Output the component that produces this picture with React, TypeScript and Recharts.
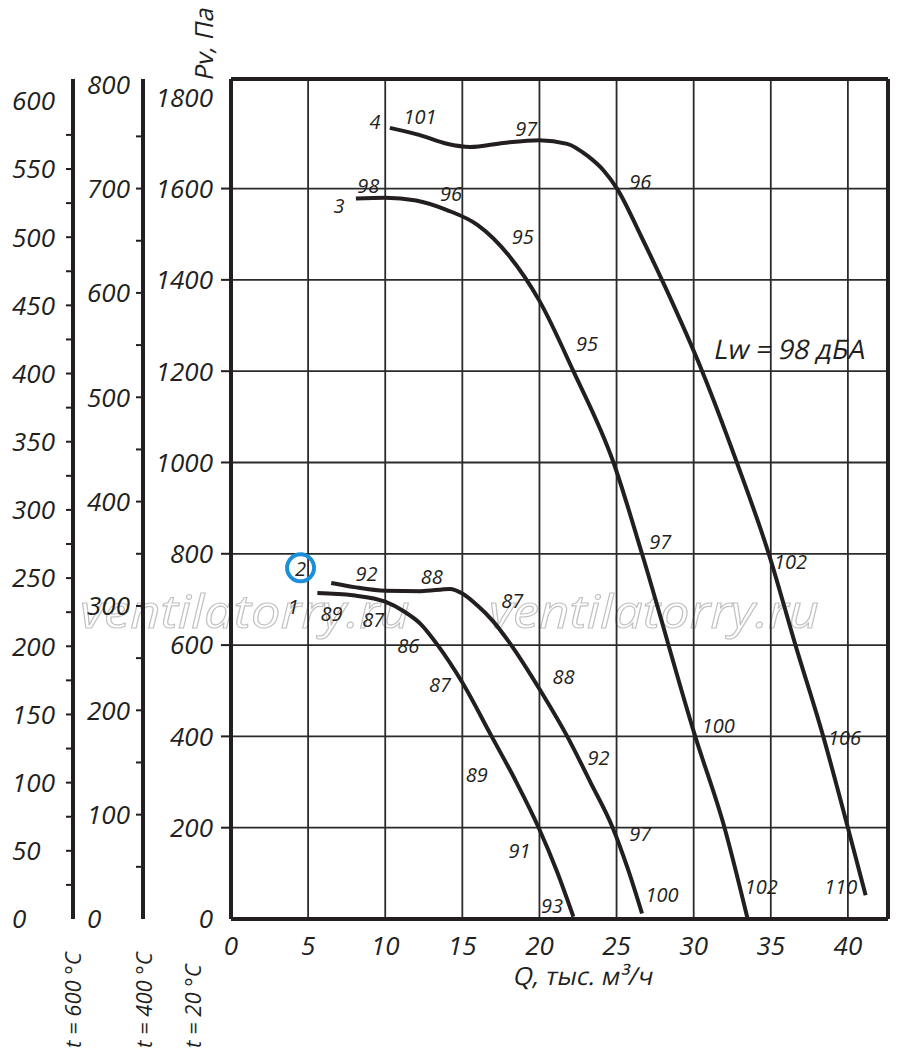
import React from 'react';
import {
  ComposedChart,
  Line,
  Scatter,
  XAxis,
  YAxis,
  ReferenceLine,
  Customized,
} from 'recharts';

// Fan curves: [Q, thousand m3/h ; Pv, Pa]
const curve1: [number, number][] = [
  [5.6, 714], [7.9, 709], [10, 695], [11.2, 674], [12.3, 646], [13.4, 600],
  [15, 518], [16.9, 400], [18.5, 300], [19.95, 200], [21.15, 103], [22.2, 5],
];
const curve2: [number, number][] = [
  [6.5, 736], [8, 727], [10, 719], [12.3, 718], [14.2, 723], [15, 713],
  [16, 686], [17, 652], [18, 608], [20.05, 501], [21.8, 400], [23.3, 300],
  [24.75, 200], [25.75, 108], [26.65, 12],
];
const curve3: [number, number][] = [
  [8.1, 1578], [10, 1580], [12, 1574], [14, 1553], [16, 1520], [18, 1454],
  [20, 1354], [22.2, 1200], [24.8, 1000], [26.65, 800], [30.1, 400], [32, 200],
  [33.5, 0],
];
const curve4: [number, number][] = [
  [10.3, 1733], [12.25, 1717], [14, 1698], [15.5, 1691], [17.66, 1700], [20, 1706],
  [21.8, 1698], [23.1, 1672], [24.2, 1638], [25.03, 1600], [26.6, 1495], [28.16, 1384],
  [30.55, 1200], [32.8, 1000], [34.87, 800], [36.6, 600], [38.4, 400], [40, 200],
  [41.15, 52],
];

// sound power levels and curve numbers written along the curves
const curveLabels = [
  { q: 9.33, p: 1746, text: '4' },
  { q: 12.25, p: 1757, text: '101' },
  { q: 19.14, p: 1730, text: '97' },
  { q: 26.54, p: 1614, text: '96' },
  { q: 36.28, p: 782, text: '102' },
  { q: 39.78, p: 398, text: '106' },
  { q: 39.53, p: 70, text: '110' },
  { q: 7.01, p: 1563, text: '3' },
  { q: 8.9, p: 1607, text: '98' },
  { q: 14.27, p: 1589, text: '96' },
  { q: 18.92, p: 1494, text: '95' },
  { q: 23.08, p: 1260, text: '95' },
  { q: 27.84, p: 826, text: '97' },
  { q: 31.6, p: 424, text: '100' },
  { q: 34.38, p: 70, text: '102' },
  { q: 4.51, p: 767, text: '2', circled: true },
  { q: 8.79, p: 756, text: '92' },
  { q: 13.01, p: 749, text: '88' },
  { q: 18.23, p: 698, text: '87' },
  { q: 21.56, p: 530, text: '88' },
  { q: 23.83, p: 353, text: '92' },
  { q: 26.54, p: 187, text: '97' },
  { q: 27.95, p: 52, text: '100' },
  { q: 4.03, p: 683, text: '1' },
  { q: 6.52, p: 669, text: '89' },
  { q: 9.22, p: 656, text: '87' },
  { q: 11.49, p: 599, text: '86' },
  { q: 13.55, p: 512, text: '87' },
  { q: 15.94, p: 315, text: '89' },
  { q: 18.7, p: 149, text: '91' },
  { q: 20.81, p: 28, text: '93' },
];
const noteLabels = [{ q: 36.28, p: 1249, text: 'Lw = 98 дБА' }];

const flowTicks = [0, 5, 10, 15, 20, 25, 30, 35, 40];
const flowGrid = [5, 10, 15, 20, 25, 30, 35, 40];
const paTicks = [0, 200, 400, 600, 800, 1000, 1200, 1400, 1600, 1800];
const paGrid = [200, 400, 600, 800, 1000, 1200, 1400, 1600];
const t400Ticks = [0, 50, 100, 150, 200, 250, 300, 350, 400, 450, 500, 550, 600, 650, 700, 750, 800];
const t600Ticks = [
  0, 25, 50, 75, 100, 125, 150, 175, 200, 225, 250, 275, 300, 325, 350, 375, 400,
  425, 450, 475, 500, 525, 550, 575, 600,
];

const Q_MAX = 42.6;
const PA_MAX = 1840;
const T400_MAX = 805;
const T600_MAX = 616;

const FONT = "'Open Sans', 'Noto Sans', sans-serif";
const INK = '#231f20';
const GRID = '#2b2b2b';
const BLUE = '#1b8fd9';

const toPoints = (c: [number, number][]) => c.map(([q, p]) => ({ q, p }));

const txt = {
  fontFamily: FONT,
  fontStyle: 'italic' as const,
  fill: INK,
};
// upright glyph shapes slanted, so Cyrillic letters keep their print form
const slanted = {
  fontFamily: FONT,
  fontStyle: 'normal' as const,
  fill: INK,
};

function PaTick({ x, y, payload }: any) {
  const v = payload.value;
  return (
    <g>
      {v > 0 && v < 1800 && <line x1={x - 10} x2={x} y1={y} y2={y} stroke={INK} strokeWidth={2} />}
      <text x={x - 18} y={y} dy="0.36em" textAnchor="end" fontSize={26} {...txt}>
        {v}
      </text>
    </g>
  );
}

function T400Tick({ x, y, payload }: any) {
  const v = payload.value;
  return (
    <g>
      {v > 0 && v < 800 && <line x1={x - 7} x2={x} y1={y} y2={y} stroke={INK} strokeWidth={2} />}
      {v % 100 === 0 && (
        <text x={x - 56} y={y} dy="0.36em" textAnchor="start" fontSize={26} {...txt}>
          {v}
        </text>
      )}
    </g>
  );
}

function T600Tick({ x, y, payload }: any) {
  const v = payload.value;
  return (
    <g>
      {v > 0 && v < 600 && <line x1={x - 7} x2={x} y1={y} y2={y} stroke={INK} strokeWidth={2} />}
      {v % 50 === 0 && (
        <text x={x - 61} y={y} dy="0.36em" textAnchor="start" fontSize={26} {...txt}>
          {v}
        </text>
      )}
    </g>
  );
}

function FlowTick({ x, y, payload }: any) {
  return (
    <text x={x} y={y + 36} textAnchor="middle" fontSize={26} {...txt}>
      {payload.value}
    </text>
  );
}

function CurveLabel({ cx, cy, payload }: any) {
  return (
    <g>
      {payload.circled && (
        <circle cx={cx} cy={cy - 1} r={13.5} fill="none" stroke={BLUE} strokeWidth={4} />
      )}
      <text x={cx} y={cy} dy="0.36em" textAnchor="middle" fontSize={20} {...txt}>
        {payload.text}
      </text>
    </g>
  );
}

function NoteLabel({ cx, cy, payload }: any) {
  return (
    <text
      transform={`translate(${cx},${cy}) skewX(-12)`}
      dy="0.36em"
      textAnchor="middle"
      fontSize={27}
      {...slanted}
    >
      {payload.text}
    </text>
  );
}

function Decorations() {
  const wm = {
    fontFamily: FONT,
    fontStyle: 'italic' as const,
    fontSize: 46,
    fill: 'none',
    stroke: '#c2c2c2',
    strokeWidth: 1.1,
  };
  return (
    <g>
      <text x={80} y={628} textLength={330} lengthAdjust="spacingAndGlyphs" {...wm}>
        ventilatorry.ru
      </text>
      <text x={489} y={628} textLength={330} lengthAdjust="spacingAndGlyphs" {...wm}>
        ventilatorry.ru
      </text>
      <text
        transform="translate(213,45) rotate(-90) skewX(-12)"
        textAnchor="middle"
        fontSize={25}
        {...slanted}
      >
        Pv, Па
      </text>
      <text transform="translate(582,985) skewX(-12)" textAnchor="middle" fontSize={25} {...slanted}>
        Q, тыс. м³/ч
      </text>
      <text transform="translate(81,1048) rotate(-90)" textAnchor="start" fontSize={22} {...txt}>
        t = 600 °C
      </text>
      <text transform="translate(152,1048) rotate(-90)" textAnchor="start" fontSize={22} {...txt}>
        t = 400 °C
      </text>
      <text transform="translate(201,1048) rotate(-90)" textAnchor="start" fontSize={22} {...txt}>
        t = 20 °C
      </text>
    </g>
  );
}

const curves = [curve1, curve2, curve3, curve4];

export default function App() {
  return (
    <div style={{ position: 'absolute', left: 0, top: 0, background: '#fff' }}>
      <ComposedChart
        width={900}
        height={1061}
        margin={{ top: 79, right: 12, bottom: 102, left: 0 }}
      >
        <XAxis
          type="number"
          dataKey="q"
          domain={[0, Q_MAX]}
          ticks={flowTicks}
          interval={0}
          allowDataOverflow
          axisLine={false}
          tickLine={false}
          tickSize={0}
          tickMargin={0}
          height={40}
          tick={(props: any) => <FlowTick {...props} />}
        />
        <YAxis
          yAxisId="pa"
          type="number"
          dataKey="p"
          domain={[0, PA_MAX]}
          ticks={paTicks}
          interval={0}
          allowDataOverflow
          width={88}
          axisLine={false}
          tickLine={false}
          tickSize={0}
          tickMargin={0}
          tick={(props: any) => <PaTick {...props} />}
        />
        <YAxis
          yAxisId="t400"
          type="number"
          domain={[0, T400_MAX]}
          ticks={t400Ticks}
          interval={0}
          allowDataOverflow
          width={70}
          axisLine={{ stroke: INK, strokeWidth: 4 }}
          tickLine={false}
          tickSize={0}
          tickMargin={0}
          tick={(props: any) => <T400Tick {...props} />}
        />
        <YAxis
          yAxisId="t600"
          type="number"
          domain={[0, T600_MAX]}
          ticks={t600Ticks}
          interval={0}
          allowDataOverflow
          width={73}
          axisLine={{ stroke: INK, strokeWidth: 4 }}
          tickLine={false}
          tickSize={0}
          tickMargin={0}
          tick={(props: any) => <T600Tick {...props} />}
        />

        {paGrid.map((v) => (
          <ReferenceLine key={`h${v}`} yAxisId="pa" y={v} stroke={GRID} strokeWidth={1.8} />
        ))}
        {flowGrid.map((v) => (
          <ReferenceLine key={`v${v}`} yAxisId="pa" x={v} stroke={GRID} strokeWidth={1.8} />
        ))}

        <Customized component={Decorations} />

        {curves.map((c, i) => (
          <Line
            key={`c${i}`}
            yAxisId="pa"
            data={toPoints(c)}
            dataKey="p"
            type="monotone"
            stroke={INK}
            strokeWidth={4}
            dot={false}
            activeDot={false}
            isAnimationActive={false}
          />
        ))}

        <Scatter
          yAxisId="pa"
          data={curveLabels}
          dataKey="p"
          shape={(props: any) => <CurveLabel {...props} />}
          isAnimationActive={false}
        />
        <Scatter
          yAxisId="pa"
          data={noteLabels}
          dataKey="p"
          shape={(props: any) => <NoteLabel {...props} />}
          isAnimationActive={false}
        />

        {/* plot frame */}
        <ReferenceLine yAxisId="pa" x={0} stroke={INK} strokeWidth={4} />
        <ReferenceLine yAxisId="pa" x={Q_MAX} stroke={INK} strokeWidth={4} />
        <ReferenceLine yAxisId="pa" y={0} stroke={INK} strokeWidth={4} />
        <ReferenceLine yAxisId="pa" y={PA_MAX} stroke={INK} strokeWidth={4} />
      </ComposedChart>
    </div>
  );
}
